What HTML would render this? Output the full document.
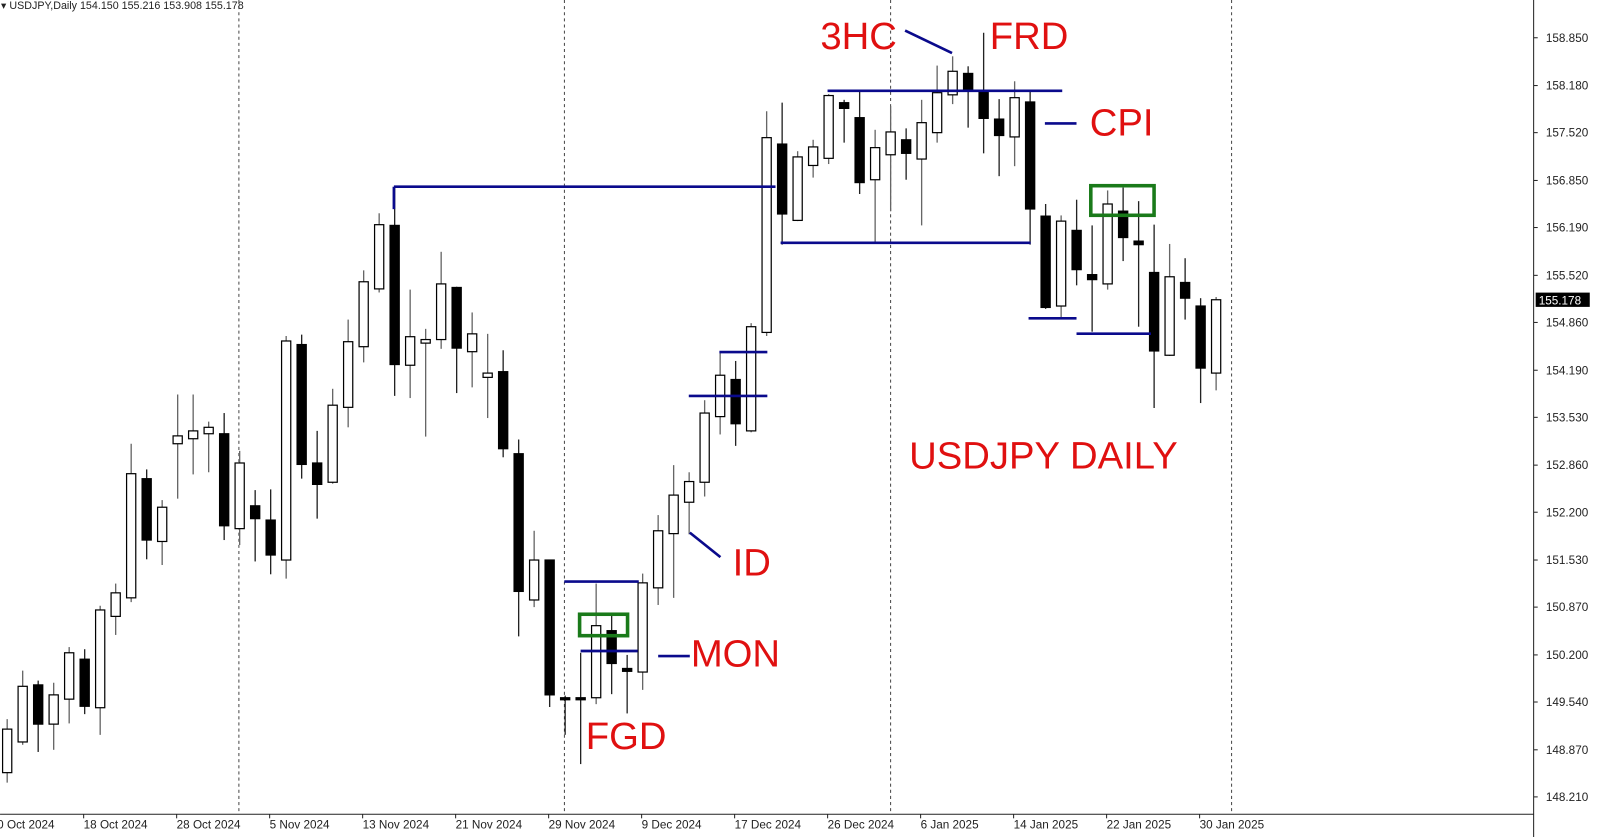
<!DOCTYPE html>
<html><head><meta charset="utf-8"><style>
html,body{margin:0;padding:0;background:#fff;width:1600px;height:837px;overflow:hidden}
svg{display:block}
</style></head><body>
<svg id="chart" width="1600" height="837" viewBox="0 0 1568 820.3" xmlns="http://www.w3.org/2000/svg" font-family="'Liberation Sans', sans-serif">
<rect x="0" y="0" width="1568" height="821" fill="#fff"/>
<g id="grid"></g>
<g id="candles"></g>
<g id="annot">
<g stroke="#0a0a8c" stroke-width="2.6" fill="none">
<line x1="386" y1="183" x2="760" y2="183"/>
<line x1="386" y1="183" x2="386" y2="205"/>
<line x1="811" y1="89" x2="1041" y2="89"/>
<line x1="765" y1="238" x2="1010" y2="238"/>
<line x1="1024" y1="121" x2="1055" y2="121"/>
<line x1="1008" y1="312" x2="1055" y2="312"/>
<line x1="1055" y1="327" x2="1128" y2="327"/>
<line x1="553" y1="570" x2="626" y2="570"/>
<line x1="569" y1="638" x2="625" y2="638"/>
<line x1="645" y1="643" x2="676" y2="643"/>
<line x1="705" y1="345" x2="752" y2="345"/>
<line x1="675" y1="388" x2="752" y2="388"/>
<line x1="887" y1="30" x2="933" y2="52"/>
<line x1="676" y1="522" x2="706" y2="546"/>
</g>
<g stroke="#1a7a1a" stroke-width="3.5" fill="none">
<rect x="568" y="602" width="47" height="21"/>
<rect x="1069" y="182" width="62" height="29"/>
</g>
<g fill="#e01010" font-size="37.5">
<text x="804" y="48">3HC</text>
<text x="970" y="48">FRD</text>
<text x="1068" y="133">CPI</text>
<text x="891" y="459">USDJPY DAILY</text>
<text x="718" y="564">ID</text>
<text x="677" y="653">MON</text>
<text x="574" y="734">FGD</text>
</g>
</g>
<g id="axes">
<line x1="1503" y1="0" x2="1503" y2="821" stroke="#222" stroke-width="1"/>
<line x1="0" y1="798" x2="1503" y2="798" stroke="#222" stroke-width="1"/>
</g>
<g id="yticks" font-size="11.5" fill="#222"></g>
<g id="xticks" font-size="11.5" fill="#222"></g>
<text x="1" y="9" font-size="10.5" fill="#222">▾ USDJPY,Daily  154.150 155.216 153.908 155.178</text>
</svg>
<script>
const opens=[148.55,148.98,149.78,149.23,149.58,150.14,149.46,150.74,151.00,152.67,151.79,153.16,153.23,153.30,153.30,151.97,152.29,152.09,151.53,154.55,152.89,152.62,153.67,154.52,155.33,156.22,154.26,154.57,154.62,155.35,154.45,154.09,154.17,153.02,150.97,151.53,149.60,149.60,149.60,150.54,150.01,149.96,151.14,151.90,152.34,152.62,153.54,154.06,153.34,154.72,157.36,156.29,157.06,157.16,157.94,157.73,156.86,157.21,157.42,157.15,157.52,158.05,158.35,158.11,157.71,157.46,157.95,156.35,155.09,156.15,155.53,155.40,156.42,156.00,155.56,154.40,155.42,155.09,154.15];
const highs=[149.30,149.98,149.84,149.81,150.31,150.28,150.89,151.20,153.16,152.80,152.37,153.85,153.85,153.47,153.59,153.06,152.51,152.52,154.67,154.69,153.34,153.93,154.90,155.59,156.39,156.76,155.32,154.77,155.85,155.36,155.00,154.70,154.47,153.22,151.94,151.53,149.63,150.23,151.20,150.78,150.20,151.34,152.16,152.86,152.76,153.77,154.45,154.32,154.85,157.82,157.94,157.26,157.42,158.06,157.98,158.09,157.56,157.89,157.58,157.98,158.46,158.59,158.45,158.92,157.99,158.24,158.09,156.52,156.36,156.58,156.22,156.71,156.75,156.56,156.23,155.96,155.76,155.20,155.216];
const lows=[148.41,148.94,148.84,148.87,149.24,149.37,149.08,150.48,150.94,151.54,151.46,152.39,152.73,152.76,151.81,151.74,151.51,151.33,151.27,152.67,152.11,152.60,153.39,154.30,155.28,153.83,153.80,153.26,154.49,153.87,153.95,153.52,152.97,150.46,150.87,149.47,149.08,148.67,149.51,149.65,149.38,149.71,150.90,151.00,151.89,152.42,153.29,153.13,153.32,154.67,155.95,156.28,156.89,157.08,157.38,156.66,155.99,156.42,156.86,156.22,157.38,157.92,157.59,157.23,156.91,157.05,155.95,155.05,154.93,155.38,154.73,155.32,155.72,154.80,153.66,154.39,154.90,153.73,153.908];
const closes=[149.16,149.76,149.23,149.64,150.23,149.48,150.83,151.07,152.74,151.81,152.27,153.27,153.34,153.39,152.01,152.89,152.11,151.60,154.60,152.87,152.59,153.70,154.59,155.43,156.23,154.27,154.66,154.62,155.40,154.50,154.70,154.15,153.09,151.09,151.53,149.64,149.59,149.59,150.61,150.08,149.97,151.21,151.94,152.44,152.63,153.59,154.12,153.44,154.80,157.45,156.38,157.18,157.32,158.04,157.86,156.82,157.31,157.53,157.23,157.66,158.08,158.38,158.13,157.72,157.48,158.01,156.45,155.07,156.28,155.60,155.46,156.52,156.05,155.95,154.46,155.50,155.20,154.22,155.178];
const priceTicks=[158.850,158.180,157.520,156.850,156.190,155.520,154.860,154.190,153.530,152.860,152.200,151.530,150.870,150.200,149.540,148.870,148.210];
const dateTickIdx=[-1,5,11,17,23,29,35,41,47,53,59,65,71,77];
const dateTickLabels=["10 Oct 2024","18 Oct 2024","28 Oct 2024","5 Nov 2024","13 Nov 2024","21 Nov 2024","29 Nov 2024","9 Dec 2024","17 Dec 2024","26 Dec 2024","6 Jan 2025","14 Jan 2025","22 Jan 2025","30 Jan 2025"];
const separatorIdx=[14.95,35.95,57.0,79.0];
const lastPrice=155.178;

const NS="http://www.w3.org/2000/svg";
const yOf=p=>37+(158.85-p)*69.925;
const xOf=i=>7+i*15.19;
function mk(tag,attrs,parent){const e=document.createElementNS(NS,tag);for(const k in attrs)e.setAttribute(k,attrs[k]);parent.appendChild(e);return e;}

const grid=document.getElementById('grid');
separatorIdx.forEach(i=>{
  const l=mk('line',{x1:xOf(i),x2:xOf(i),y1:0,y2:798,stroke:'#333','stroke-width':0.9,'stroke-dasharray':'3,3'},grid);
  
  
});

const cg=document.getElementById('candles');
opens.forEach((o,i)=>{
  const c=closes[i],x=xOf(i),bull=c>=o;
  const g=mk('g',{},cg);
  
  
  mk('line',{x1:x,x2:x,y1:yOf(highs[i]),y2:yOf(lows[i]),stroke:bull?'#666':'#222','stroke-width':1.3},g);
  const top=yOf(Math.max(o,c)),bot=yOf(Math.min(o,c));
  const h=Math.max(bot-top,2);
  mk('rect',{x:x-4.5,y:top,width:9,height:h,fill:bull?'#fff':'#000',stroke:'#000','stroke-width':1.2},g);
});

const yt=document.getElementById('yticks');
priceTicks.forEach(p=>{
  const y=yOf(p);
  const l=mk('line',{x1:1503,x2:1507,y1:y,y2:y,stroke:'#222'},yt);
  
  
  const t=mk('text',{x:1515,y:y+4},yt);
  
  
  t.textContent=p.toFixed(3);
});
const ly=yOf(lastPrice);
const box=mk('rect',{x:1505,y:ly-7,width:53,height:14,fill:'#000'},yt);


const lt=mk('text',{x:1508,y:ly+4.5,fill:'#fff'},yt);


lt.textContent=lastPrice.toFixed(3);

const xt=document.getElementById('xticks');
dateTickIdx.forEach((i,k)=>{
  const x=xOf(i)-1;
  const l=mk('line',{x1:x,x2:x,y1:798,y2:802,stroke:'#222'},xt);
  
  
  const t=mk('text',{x:x,y:812},xt);
  
  
  t.textContent=dateTickLabels[k];
});
</script>
</body></html>
